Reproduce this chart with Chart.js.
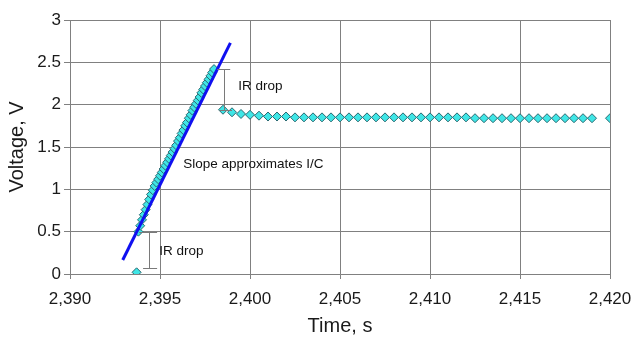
<!DOCTYPE html>
<html><head><meta charset="utf-8">
<script src="https://cdn.jsdelivr.net/npm/chart.js@4/dist/chart.umd.min.js"></script>
<style>html,body{margin:0;padding:0;background:#fff}#wrap{width:634px;height:337px}</style>
</head><body><div id="wrap"><canvas id="c" width="634" height="337"></canvas></div>
<script>
// Charging ramp (time s, voltage V)
const rampTime = [2393.7,2393.8,2393.9,2394.0,2394.1,2394.2,2394.3,2394.4,2394.5,2394.6,2394.7,2394.8,2394.9,2395.0,2395.1,2395.2,2395.3,2395.4,2395.5,2395.6,2395.7,2395.8,2395.9,2396.0,2396.1,2396.2,2396.3,2396.4,2396.5,2396.6,2396.7,2396.8,2396.9,2397.0,2397.1,2397.2,2397.3,2397.4,2397.5,2397.6,2397.7,2397.8,2397.9,2398.0];
const rampVolt = [0.02,0.50,0.57,0.64,0.70,0.76,0.82,0.88,0.94,0.99,1.04,1.08,1.12,1.16,1.20,1.24,1.28,1.32,1.36,1.40,1.44,1.48,1.52,1.57,1.61,1.66,1.70,1.75,1.79,1.84,1.88,1.93,1.97,2.01,2.05,2.09,2.14,2.18,2.22,2.26,2.30,2.34,2.38,2.42];
// Rest period after the IR drop
const restTime = [2398.5,2399.0,2399.5,2400.0,2400.5,2401.0,2401.5,2402.0,2402.5,2403.0,2403.5,2404.0,2404.5,2405.0,2405.5,2406.0,2406.5,2407.0,2407.5,2408.0,2408.5,2409.0,2409.5,2410.0,2410.5,2411.0,2411.5,2412.0,2412.5,2413.0,2413.5,2414.0,2414.5,2415.0,2415.5,2416.0,2416.5,2417.0,2417.5,2418.0,2418.5,2419.0,2420.0];
const restVolt = [1.94,1.91,1.89,1.88,1.87,1.86,1.86,1.86,1.85,1.85,1.85,1.85,1.85,1.85,1.85,1.85,1.85,1.85,1.85,1.85,1.85,1.85,1.85,1.85,1.85,1.85,1.85,1.85,1.84,1.84,1.84,1.84,1.84,1.84,1.84,1.84,1.84,1.84,1.84,1.84,1.84,1.84,1.84];
// Fitted slope line
const slopeTime = [2392.93, 2398.91];
const slopeVolt = [0.165, 2.73];
// Axis ticks
const xTicks = [2390,2395,2400,2405,2410,2415,2420];
const yTicks = [0,0.5,1,1.5,2,2.5,3];
// Annotations (data coordinates)
const brackets = [
  {t:2398.57, v1:2.42, v2:1.94, c1:[2398.18,2398.9], c2:[2398.3,2399.0]},
  {t:2394.4, v1:0.50, v2:0.07, c1:[2393.84,2394.84], c2:[2394.06,2394.84]}
];
const labels = [
  {text:'IR drop', t:2399.35, v:2.22},
  {text:'IR drop', t:2394.96, v:0.27},
  {text:'Slope approximates I/C', t:2396.29, v:1.29}
];

const pts = (xs, ys) => xs.map((x,i)=>({x:x, y:ys[i]}));
const FONT = '"Liberation Sans", Arial, sans-serif';

const annot = {
  id:'annot',
  afterDatasetsDraw(chart){
    const {ctx, scales:{x, y}} = chart;
    ctx.save();
    ctx.strokeStyle = '#7a7a7a';
    ctx.lineWidth = 1;
    brackets.forEach(b=>{
      const px = Math.round(x.getPixelForValue(b.t))+0.5;
      const y1 = Math.round(y.getPixelForValue(b.v1))+0.5;
      const y2 = Math.round(y.getPixelForValue(b.v2))+0.5;
      ctx.beginPath();
      ctx.moveTo(px,y1); ctx.lineTo(px,y2);
      ctx.moveTo(x.getPixelForValue(b.c1[0]),y1); ctx.lineTo(x.getPixelForValue(b.c1[1]),y1);
      ctx.moveTo(x.getPixelForValue(b.c2[0]),y2); ctx.lineTo(x.getPixelForValue(b.c2[1]),y2);
      ctx.stroke();
    });
    ctx.fillStyle = '#111';
    ctx.font = '13.5px ' + FONT;
    ctx.textBaseline = 'middle';
    ctx.textAlign = 'left';
    labels.forEach(l=>{
      ctx.fillText(l.text, x.getPixelForValue(l.t), y.getPixelForValue(l.v));
    });
    ctx.restore();
  }
};

new Chart(document.getElementById('c'), {
  type:'scatter',
  data:{datasets:[
    {label:'slope', type:'line', data:pts(slopeTime, slopeVolt), borderColor:'#1010f0', borderWidth:3, pointRadius:0, fill:false, order:0},
    {label:'ramp', data:pts(rampTime, rampVolt), pointStyle:'rectRot', pointRadius:4.5, backgroundColor:'#3fe6e6', borderColor:'#2a6870', borderWidth:1, order:1},
    {label:'rest', data:pts(restTime, restVolt), pointStyle:'rectRot', pointRadius:4.5, backgroundColor:'#3fe6e6', borderColor:'#2a6870', borderWidth:1, order:1}
  ]},
  options:{
    responsive:false, animation:false, locale:'en-US',
    layout:{padding:{left:0, right:24, top:20, bottom:0}},
    plugins:{legend:{display:false}, tooltip:{enabled:false}},
    scales:{
      x:{type:'linear', min:2390, max:2420,
        afterBuildTicks(s){ s.ticks = xTicks.map(v=>({value:v})); },
        afterFit(s){ s.height = 63; s.paddingLeft = 0; s.paddingRight = 0; },
        grid:{color:'#808080', lineWidth:1, tickLength:5, drawTicks:true},
        border:{color:'#808080'},
        ticks:{color:'#1a1a1a', font:{family:FONT, size:17}, padding:10, maxRotation:0, autoSkip:false,
          callback:(v)=>Number(v).toLocaleString('en-US')},
        title:{display:true, text:'Time, s', color:'#1a1a1a', font:{family:FONT, size:20, lineHeight:1.1}, padding:{top:0,bottom:0}}
      },
      y:{min:0, max:3,
        afterBuildTicks(s){ s.ticks = yTicks.map(v=>({value:v})); },
        afterFit(s){ s.width = 70; },
        grid:{color:'#808080', lineWidth:1, tickLength:6},
        border:{color:'#808080'},
        ticks:{color:'#1a1a1a', font:{family:FONT, size:17}, padding:3, callback:(v)=>String(v)},
        title:{display:true, text:'Voltage, V', color:'#1a1a1a', font:{family:FONT, size:20, lineHeight:1.2}, padding:{top:5,bottom:0}}
      }
    }
  },
  plugins:[annot]
});
</script></body></html>
